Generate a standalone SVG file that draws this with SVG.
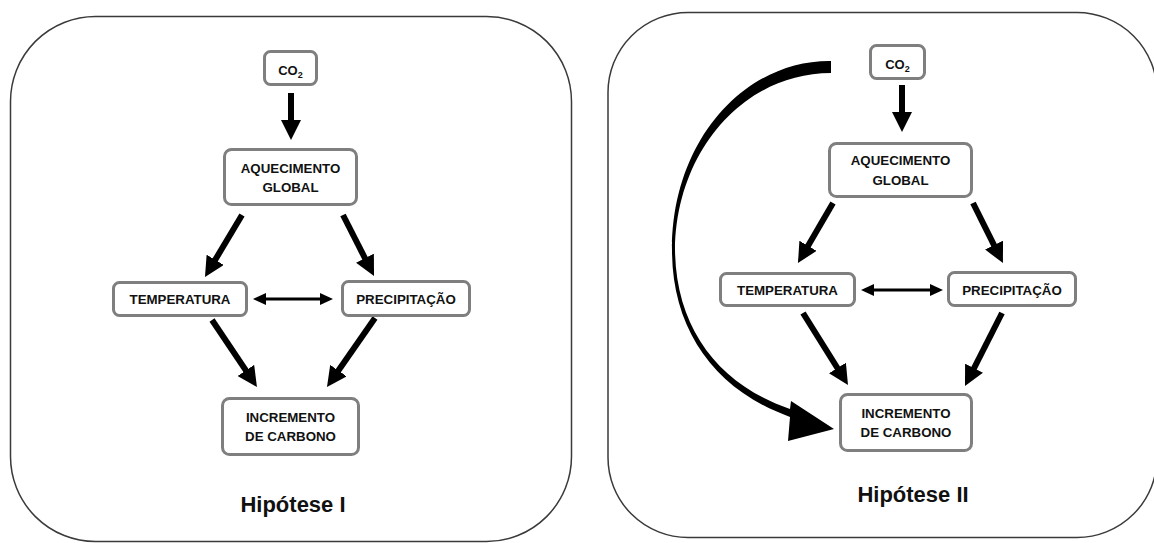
<svg xmlns="http://www.w3.org/2000/svg" width="1154" height="543" viewBox="0 0 1154 543">
<style>
.panel{fill:none;stroke:#3a3a3a;stroke-width:1.5}
.box{fill:#fff;stroke:#7f7f7f;stroke-width:3}
.lbl{font-family:"Liberation Sans",Arial,sans-serif;font-weight:bold;font-size:13.3px;fill:#111;text-anchor:middle}
.co2{font-size:13px}
.title{font-family:"Liberation Sans",Arial,sans-serif;font-weight:bold;font-size:22px;fill:#111;text-anchor:middle}
.arr{stroke:#000;stroke-width:6;fill:none;marker-end:url(#ah)}
.dbl{stroke:#000;stroke-width:3;fill:none;marker-start:url(#dh);marker-end:url(#dh)}
</style>
<defs>
<marker id="ah" markerUnits="userSpaceOnUse" markerWidth="20" markerHeight="20" refX="10" refY="10" orient="auto">
<path d="M0,0 L20,10 L0,20 Z" fill="#000"/>
</marker>
<marker id="dh" markerUnits="userSpaceOnUse" markerWidth="13" markerHeight="12" refX="6" refY="6" orient="auto-start-reverse">
<path d="M0,0 L13,6 L0,12 Z" fill="#000"/>
</marker>
</defs>
<rect id="panel-1" class="panel" x="10.5" y="16.5" width="561" height="525" rx="85" ry="85"/>
<rect id="panel-2" class="panel" x="608" y="12.5" width="549" height="525" rx="80" ry="80"/>
<g id="connectors">
<line class="arr" x1="291" y1="93" x2="291" y2="130"/>
<line class="arr" x1="242" y1="215" x2="210.1" y2="268.4"/>
<line class="arr" x1="343" y1="215" x2="369.5" y2="267.1"/>
<line class="arr" x1="212" y1="320" x2="251.4" y2="378.7"/>
<line class="arr" x1="375" y1="318" x2="332.7" y2="378.8"/>
<line class="dbl" x1="260" y1="299" x2="326" y2="299"/>
<line class="arr" x1="902" y1="85" x2="902" y2="122"/>
<line class="arr" x1="833" y1="203" x2="803" y2="254.4"/>
<line class="arr" x1="973" y1="203" x2="998.5" y2="254.1"/>
<line class="arr" x1="803" y1="313" x2="842.7" y2="376.5"/>
<line class="arr" x1="1002" y1="313" x2="969.5" y2="377.1"/>
<line class="dbl" x1="868" y1="290" x2="936" y2="290"/>
<path id="curved-arrow" fill="#000" d="M831,61 C745,60 672,140 672,250 C672,330 715,390 790,417 L788,441 L834,429 L791,401 L790,409 C720,385 676,330 675,250 C676,150 745,73 831,73 Z"/>
</g>
<g id="n1-co2"><rect class="box" x="264.5" y="51.5" width="52" height="33" rx="6"/><text class="lbl co2" x="290.5" y="75">CO<tspan font-size="9" dy="3">2</tspan></text></g>
<g id="n1-aquecimento"><rect class="box" x="224.5" y="149.5" width="132" height="55" rx="7"/><text class="lbl" x="290.5" y="173">AQUECIMENTO</text><text class="lbl" x="290.5" y="192">GLOBAL</text></g>
<g id="n1-temperatura"><rect class="box" x="113.5" y="282.5" width="133" height="33" rx="6"/><text class="lbl" x="180" y="304">TEMPERATURA</text></g>
<g id="n1-precipitacao"><rect class="box" x="342.5" y="281.5" width="127" height="34" rx="6"/><text class="lbl" x="406" y="303.5">PRECIPITAÇÃO</text></g>
<g id="n1-incremento"><rect class="box" x="222.5" y="398.5" width="136" height="56" rx="7"/><text class="lbl" x="290.5" y="422">INCREMENTO</text><text class="lbl" x="290.5" y="441">DE CARBONO</text></g>
<text class="title" x="293" y="512">Hipótese I</text>
<g id="n2-co2"><rect class="box" x="870.5" y="45.5" width="54" height="33" rx="6"/><text class="lbl co2" x="897.5" y="69">CO<tspan font-size="9" dy="3">2</tspan></text></g>
<g id="n2-aquecimento"><rect class="box" x="829.5" y="143.5" width="142" height="53" rx="7"/><text class="lbl" x="900.5" y="165">AQUECIMENTO</text><text class="lbl" x="900.5" y="185">GLOBAL</text></g>
<g id="n2-temperatura"><rect class="box" x="720.5" y="273.5" width="134" height="32" rx="6"/><text class="lbl" x="787.5" y="295">TEMPERATURA</text></g>
<g id="n2-precipitacao"><rect class="box" x="948.5" y="272.5" width="127" height="33" rx="6"/><text class="lbl" x="1012" y="294.5">PRECIPITAÇÃO</text></g>
<g id="n2-incremento"><rect class="box" x="840.5" y="394.5" width="131" height="56" rx="7"/><text class="lbl" x="906" y="418">INCREMENTO</text><text class="lbl" x="906" y="437">DE CARBONO</text></g>
<text class="title" x="913" y="502">Hipótese II</text>
</svg>
